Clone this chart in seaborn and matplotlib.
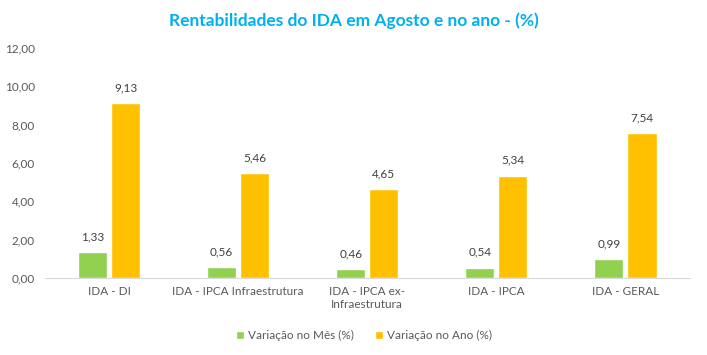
import pandas as pd
import matplotlib.pyplot as plt
import seaborn as sns

# données
categorias = ['IDA - DI', 'IDA - IPCA Infraestrutura', 'IDA - IPCA ex-\nInfraestrutura', 'IDA - IPCA', 'IDA - GERAL']
variacao_mes = [1.33, 0.56, 0.46, 0.54, 0.99]
variacao_ano = [9.13, 5.46, 4.65, 5.34, 7.54]
series = ['Variação no Mês (%)', 'Variação no Ano (%)']
cores = ['#92D050', '#FFC000']

df = pd.DataFrame({
    'categoria': categorias * 2,
    'valor': variacao_mes + variacao_ano,
    'serie': [series[0]] * len(categorias) + [series[1]] * len(categorias),
})

sns.set_style('white')
plt.rcParams['font.family'] = ['Lato', 'DejaVu Sans']

fig = plt.figure(figsize=(7.07, 3.55), dpi=100)
ax = fig.add_axes([0.063, 0.217, 0.913, 0.648])

sns.barplot(data=df, x='categoria', y='valor', hue='serie', palette=cores,
            saturation=1, width=0.512, gap=0.12, ax=ax, legend=True)

# étiquettes de valeurs
for cont in ax.containers:
    ax.bar_label(cont, labels=[f'{v:.2f}'.replace('.', ',') for v in cont.datavalues],
                 padding=7, fontsize=8.5, color='#404040')

ax.set_ylim(0, 12)
ax.set_yticks(range(0, 13, 2))
ax.set_yticklabels([f'{v},00' for v in range(0, 13, 2)])
ax.tick_params(axis='both', labelsize=8.5, colors='#595959', length=0)
ax.tick_params(axis='y', pad=7)
ax.tick_params(axis='x', pad=6)
ax.set_xlabel('')
ax.set_ylabel('')

for s in ['top', 'right', 'left']:
    ax.spines[s].set_visible(False)
ax.spines['bottom'].set_color('#D9D9D9')

fig.suptitle('Rentabilidades do IDA em Agosto e no ano - (%)', fontsize=12.5,
             fontweight='bold', color='#00B0F0', x=0.5, y=0.965)

ax.legend(loc='center', bbox_to_anchor=(0.495, -0.25), ncol=2, frameon=False,
          fontsize=8.5, handlelength=0.7, handleheight=0.7, handletextpad=0.3,
          columnspacing=1.8, labelcolor='#595959')

fig.savefig('out.png', dpi=100)
